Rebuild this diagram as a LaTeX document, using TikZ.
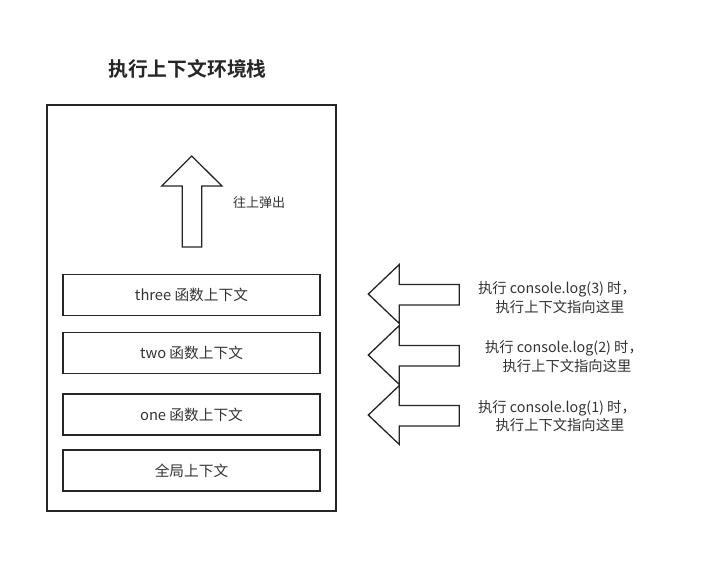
\documentclass[tikz,border=0pt]{standalone}
\usepackage{fontspec}
\setmainfont{Noto Sans CJK SC}
\newfontfamily\cjkbold{Noto Sans CJK SC Bold}
\begin{document}
\begin{tikzpicture}[x=1pt,y=-1pt,
  line width=1.3pt, draw=black!85,
  ctxbox/.style={draw=black!85, line width=1.3pt, minimum width=257pt, minimum height=41pt, inner sep=0pt, font=\fontsize{14.7}{16}\selectfont, text=black!80},
  lbl/.style={font=\fontsize{14.3}{18.5}\selectfont, text=black!80, align=center, inner sep=0pt},
  arr/.style={draw=black!85, line width=1.3pt, line join=miter, fill=white}]
\useasboundingbox (0,0) rectangle (719,574);
\node[font=\cjkbold\fontsize{19.8}{22}\selectfont, text=black!85] (title) at (187.5,69) {执行上下文环境栈};
\node[draw=black!85, line width=1.3pt, minimum width=289pt, minimum height=406pt, inner sep=0pt] (stack) at (191.5,308) {};
\node[ctxbox] (three) at (191.5,295) {three 函数上下文};
\node[ctxbox] (two) at (191.5,353) {two 函数上下文};
\node[ctxbox] (one) at (191.5,414.5) {one 函数上下文};
\node[ctxbox] (global) at (191.5,470.5) {全局上下文};
% up arrow
\draw[arr] (191.7,156) coordinate (uptip) -- (222,186) -- (201.7,186) -- (201.7,247) -- (182.3,247) -- (182.3,186) -- (161.7,186) -- cycle;
\node[font=\fontsize{13}{14}\selectfont, text=black!80, inner sep=0pt] (pop) at (259,203) {往上弹出};
% left arrows
\foreach \n/\cy in {a3/294, a2/355, a1/415}{
  \draw[arr] (368.3,\cy) coordinate (\n) -- (399.3,\cy-29.5) -- (399.3,\cy-9.5) -- (459.3,\cy-9.5) -- (459.3,\cy+11) -- (399.3,\cy+11) -- (399.3,\cy+29.5) -- cycle;
}
\node[lbl] (t3) at (557,297.5) {执行 console.log(3) 时，\\\hspace*{6pt}执行上下文指向这里};
\node[lbl] (t2) at (564,356.5) {执行 console.log(2) 时，\\\hspace*{6pt}执行上下文指向这里};
\node[lbl] (t1) at (557,416) {执行 console.log(1) 时，\\\hspace*{6pt}执行上下文指向这里};
\end{tikzpicture}
\end{document}
